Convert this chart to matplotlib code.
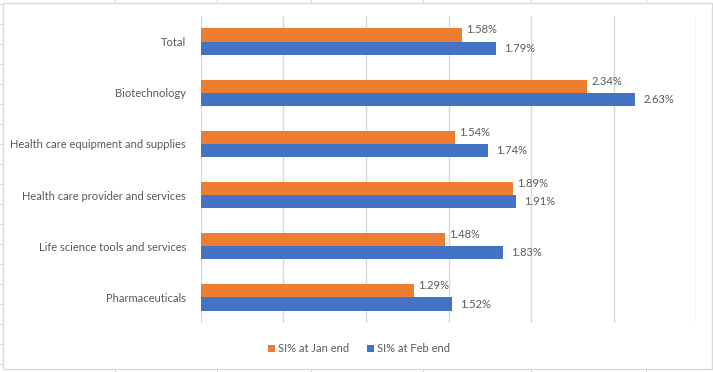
import matplotlib
matplotlib.use("Agg")
import matplotlib.pyplot as plt
from matplotlib.patches import Rectangle
from matplotlib.lines import Line2D

categories = ['Total', 'Biotechnology', 'Health care equipment and supplies',
              'Health care provider and services', 'Life science tools and services',
              'Pharmaceuticals']
si_jan = [1.58, 2.34, 1.54, 1.89, 1.48, 1.29]
si_feb = [1.79, 2.63, 1.74, 1.91, 1.83, 1.52]
series_names = ['SI% at Jan end', 'SI% at Feb end']

ORANGE = '#ED7D31'
BLUE = '#4472C4'
GRID = '#D9D9D9'
TEXT = '#595959'
FS = 8.0

plt.rcParams['font.family'] = ['Lato', 'DejaVu Sans']

W, H = 713, 372
fig = plt.figure(figsize=(W / 100, H / 100), dpi=100)

# faint spreadsheet grid behind the chart object
for x in [115, 217, 311, 423, 531, 646]:
    fig.add_artist(Line2D([x / W, x / W], [0, 1], color=GRID, lw=0.8, zorder=-3))
for y in range(4, H, 20):
    fig.add_artist(Line2D([0, 1], [1 - y / H, 1 - y / H], color=GRID, lw=0.8, zorder=-3))
fig.add_artist(Rectangle((2.5 / W, 1 - 369 / H), 709 / W, 366.5 / H,
                         facecolor='white', edgecolor=GRID, lw=1.0, zorder=-2))

ax = fig.add_axes([200.7 / W, 1 - 323 / H, 495.6 / W, 307 / H])
ax.set_facecolor('none')

pos = list(range(len(categories)))
h = 0.258
ax.barh([p - h / 2 for p in pos], si_jan, height=h, color=ORANGE, label=series_names[0], zorder=3)
ax.barh([p + h / 2 for p in pos], si_feb, height=h, color=BLUE, label=series_names[1], zorder=3)

for p, v in zip(pos, si_jan):
    ax.annotate(f'{v:.2f}%', (v, p - h / 2), xytext=(4, 5), textcoords='offset pixels',
                ha='left', va='center', fontsize=FS, color=TEXT)
for p, v in zip(pos, si_feb):
    ax.annotate(f'{v:.2f}%', (v, p + h / 2), xytext=(8, 0), textcoords='offset pixels',
                ha='left', va='center', fontsize=FS, color=TEXT)

ax.set_xlim(0, 3)
ax.set_ylim(len(categories) - 0.5, -0.5)
ax.set_xticks([0, 0.5, 1, 1.5, 2, 2.5, 3])
ax.set_xticklabels([])
ax.tick_params(axis='x', length=0)
ax.xaxis.grid(True, color=GRID, lw=1.0, zorder=0)
ax.set_axisbelow(True)
ax.set_yticks(pos)
ax.set_yticklabels(categories, fontsize=FS, color=TEXT)
ax.tick_params(axis='y', length=0, pad=10.5)
for s in ax.spines.values():
    s.set_visible(False)

leg = fig.legend(loc='center', bbox_to_anchor=(359 / W, 1 - 349 / H), ncol=2, frameon=False,
                 fontsize=FS, handlelength=0.6, handleheight=0.6, handletextpad=0.3,
                 columnspacing=1.6, labelcolor=TEXT)

fig.savefig('out.png', dpi=100)
